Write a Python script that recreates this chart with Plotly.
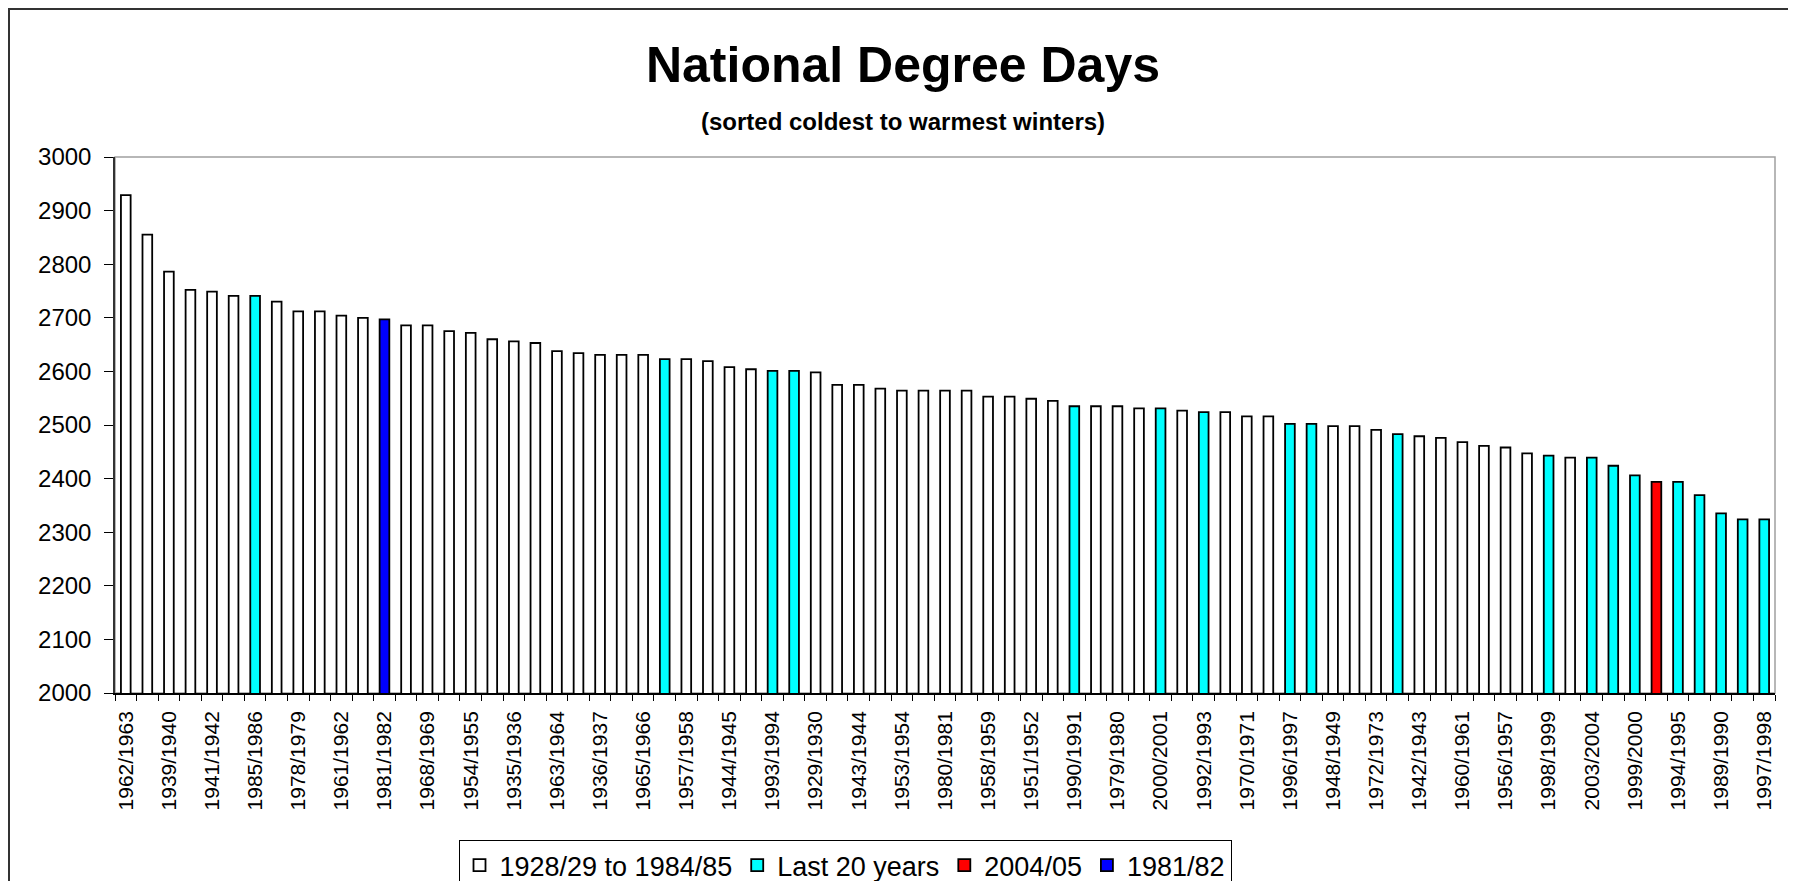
import plotly.graph_objects as go

# Winters sorted coldest to warmest
winters = [
    "1962/1963", "1946/1947", "1939/1940", "1940/1941", "1941/1942", "1955/1956",
    "1985/1986", "1969/1970", "1978/1979", "1950/1951", "1961/1962", "1966/1967",
    "1981/1982", "1984/1985", "1968/1969", "1952/1953", "1954/1955", "1964/1965",
    "1935/1936", "1932/1933", "1963/1964", "1933/1934", "1936/1937", "1967/1968",
    "1965/1966", "1986/1987", "1957/1958", "1977/1978", "1944/1945", "1945/1946",
    "1993/1994", "1995/1996", "1929/1930", "1937/1938", "1943/1944", "1928/1929",
    "1953/1954", "1930/1931", "1980/1981", "1973/1974", "1958/1959", "1982/1983",
    "1951/1952", "1959/1960", "1990/1991", "1931/1932", "1979/1980", "1949/1950",
    "2000/2001", "1938/1939", "1992/1993", "1983/1984", "1970/1971", "1934/1935",
    "1996/1997", "1991/1992", "1948/1949", "1971/1972", "1972/1973", "1987/1988",
    "1942/1943", "1947/1948", "1960/1961", "1976/1977", "1956/1957", "1975/1976",
    "1998/1999", "1974/1975", "2003/2004", "1988/1989", "1999/2000", "2004/2005",
    "1994/1995", "2002/2003", "1989/1990", "2001/2002", "1997/1998",
]

degree_days = [
    2929, 2855, 2786, 2752, 2749, 2741,
    2741, 2730, 2712, 2712, 2704, 2700,
    2697, 2686, 2686, 2675, 2672, 2660,
    2656, 2653, 2638, 2634, 2631, 2631,
    2631, 2623, 2623, 2619, 2608, 2604,
    2601, 2601, 2598, 2575, 2575, 2568,
    2564, 2564, 2564, 2564, 2553, 2553,
    2549, 2545, 2535, 2535, 2535, 2531,
    2531, 2527, 2524, 2524, 2516, 2516,
    2502, 2502, 2498, 2498, 2491, 2483,
    2479, 2476, 2468, 2461, 2458, 2447,
    2443, 2439, 2439, 2424, 2406, 2394,
    2394, 2369, 2335, 2324, 2324,
]

recent_start_year = 1985
latest_winter = "2004/2005"
highlight_winter = "1981/1982"

series_names = ["1928/29 to 1984/85", "Last 20 years", "2004/05", "1981/82"]
series_colors = ["#FFFFFF", "#00FFFF", "#FF0000", "#0000FF"]


def group_of(w):
    if w == latest_winter:
        return 2
    if w == highlight_winter:
        return 3
    if int(w[:4]) >= recent_start_year:
        return 1
    return 0


FONT = "Arial, Liberation Sans, sans-serif"
# page body has an 8px margin: work in window pixels, shift into figure pixels
OFF = 8
W, H = 1796 - 2 * OFF, 889 - 2 * OFF
plot_left, plot_right, plot_top, plot_bottom = 115 - OFF, 1775 - OFF, 157 - OFF, 693 - OFF
L, R, T, B = plot_left, W - plot_right, plot_top, H - plot_bottom

fig = go.Figure()
for g, (name, color) in enumerate(zip(series_names, series_colors)):
    xs = [w for w in winters if group_of(w) == g]
    ys = [v for w, v in zip(winters, degree_days) if group_of(w) == g]
    fig.add_trace(go.Bar(
        x=xs, y=ys, name=name, width=0.45,
        marker=dict(color=color, line=dict(color="#000000", width=1.8)),
    ))

ticktext = [w if i % 2 == 0 else "" for i, w in enumerate(winters)]

plot_w = plot_right - plot_left
plot_h = plot_bottom - plot_top


def px_x(x):
    return (x - OFF - plot_left) / plot_w


def px_y(y):
    return (plot_bottom - (y - OFF)) / plot_h


fig.update_layout(
    width=W, height=H,
    margin=dict(l=L, r=R, t=T, b=B, autoexpand=False),
    barmode="overlay",
    plot_bgcolor="#FFFFFF",
    paper_bgcolor="#FFFFFF",
    font=dict(family=FONT, color="#000000"),
    title=dict(
        text="National Degree Days",
        font=dict(family=FONT, size=50, color="#000000", weight="bold"),
        x=(903 - OFF) / W, xref="container", xanchor="center",
        y=1 - (64 - OFF) / H, yref="container", yanchor="middle",
    ),
    showlegend=True,
    legend=dict(
        orientation="h",
        x=px_x(845), xanchor="center",
        y=px_y(840), yanchor="top",
        bgcolor="#FFFFFF", bordercolor="#000000", borderwidth=1,
        font=dict(family=FONT, size=27, color="#000000"),
        traceorder="normal",
    ),
    xaxis=dict(
        type="category",
        categoryorder="array", categoryarray=winters,
        tickmode="array", tickvals=winters, ticktext=ticktext,
        tickson="boundaries",
        ticks="outside", ticklen=6, tickcolor="#000000", tickwidth=1.2,
        tickangle=-90, ticklabelstandoff=8,
        tickfont=dict(family=FONT, size=21, color="#000000"),
        showline=True, linecolor="#000000", linewidth=1.5,
        showgrid=False, zeroline=False,
        range=[-0.5, len(winters) - 0.5],
    ),
    yaxis=dict(
        range=[2000, 3000], dtick=100, tick0=2000,
        ticks="outside", ticklen=9, tickcolor="#000000", tickwidth=1.2,
        ticklabelstandoff=8,
        tickfont=dict(family=FONT, size=24, color="#000000"),
        showline=True, linecolor="#333333", linewidth=1.5,
        showgrid=False, zeroline=False,
    ),
    annotations=[dict(
        text="(sorted coldest to warmest winters)",
        xref="paper", yref="paper",
        x=px_x(903), y=px_y(122), xanchor="center", yanchor="middle",
        showarrow=False,
        font=dict(family=FONT, size=24, color="#000000", weight="bold"),
    )],
    shapes=[
        dict(type="rect", xref="paper", yref="paper", x0=0, x1=1, y0=0, y1=1,
             line=dict(color="#A0A0A0", width=1.5), layer="below"),
        dict(type="rect", xref="paper", yref="paper",
             x0=px_x(9), x1=px_x(1805), y0=px_y(9), y1=px_y(900),
             line=dict(color="#333333", width=2), layer="below"),
    ],
)

fig.write_html("out.html")
